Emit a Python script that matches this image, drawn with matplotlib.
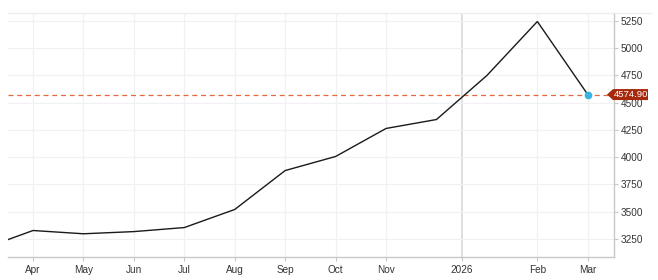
import matplotlib
matplotlib.use("Agg")
import matplotlib.pyplot as plt
from matplotlib.patches import Polygon
from matplotlib.lines import Line2D

plt.rcParams['font.family'] = ['Liberation Sans', 'DejaVu Sans']

# Data (monthly, Mar 2025 .. Mar 2026)
months = ["Mar", "Apr", "May", "Jun", "Jul", "Aug", "Sep", "Oct", "Nov", "Dec", "Jan", "Feb", "Mar"]
values = [3160, 3328, 3298, 3318, 3355, 3521, 3878, 4007, 4264, 4346, 4750, 5245, 4574.90]
last_value = 4574.90

xtick_pos = [1, 2, 3, 4, 5, 6, 7, 8, 9.5, 11, 12]
xtick_labels = ["Apr", "May", "Jun", "Jul", "Aug", "Sep", "Oct", "Nov", "2026", "Feb", "Mar"]
ytick_vals = [3250, 3500, 3750, 4000, 4250, 4500, 4750, 5000, 5250]

W, H = 658, 280
fig = plt.figure(figsize=(W / 100, H / 100), dpi=100)
left, right, top, bottom = 8, 614, 13, 257
ax = fig.add_axes([left / W, (H - bottom) / H, (right - left) / W, (bottom - top) / H])

x = list(range(len(values)))
ax.set_xlim(0.504, 12.52)
ax.set_ylim(3085, 5323)

# grid
for xp, lab in zip(xtick_pos, xtick_labels):
    if lab == "2026":
        ax.axvline(xp, color="#dcdcdc", lw=1.3, zorder=1)
    else:
        ax.axvline(xp, color="#f1f1f1", lw=0.9, zorder=1)
for yv in ytick_vals:
    ax.axhline(yv, color="#f1f1f1", lw=0.9, zorder=1)

ax.plot(x, values, color="#1a1a1a", lw=1.0, zorder=3, solid_joinstyle="miter")

# last value dashed line
ax.axhline(last_value, color="#e2683f", lw=0.9, ls=(0, (4, 3)), zorder=2)
ax.plot([x[-1]], [values[-1]], marker="o", ms=4.5, color="#37b4e2", mec="#37b4e2", zorder=4)

# spines
ax.spines["left"].set_visible(False)
ax.spines["top"].set_visible(False)
ax.spines["right"].set_color("#c8c8c8")
ax.spines["bottom"].set_color("#c8c8c8")
ax.spines["right"].set_linewidth(1.0)
ax.spines["bottom"].set_linewidth(1.0)

# light top border extending past the axis
fig.lines.append(Line2D([left / W, 651 / W], [(H - top) / H, (H - top) / H],
                        transform=fig.transFigure, color="#ececec", lw=0.9))

ax.yaxis.tick_right()
ax.set_yticks(ytick_vals)
ax.set_yticklabels([str(v) for v in ytick_vals])
ax.set_xticks(xtick_pos)
ax.set_xticklabels(xtick_labels)
ax.tick_params(axis="both", labelsize=7.2, colors="#c8c8c8", labelcolor="#333333",
               length=3, width=0.8, pad=2)
ax.tick_params(axis="x", pad=3)

# value label box (arrow shape) at right
fig.canvas.draw()
_, ypix = ax.transData.transform((0, last_value))
ytop_px = ypix + 5.5
ybot_px = ypix - 5.5
xl = 607
xa = 613
xr = 648
poly_px = [(xl, ypix), (xa, ytop_px), (xr, ytop_px), (xr, ybot_px), (xa, ybot_px)]
poly_fig = [(px / W, py / H) for px, py in poly_px]
fig.patches.append(Polygon(poly_fig, closed=True, transform=fig.transFigure,
                           facecolor="#a7290c", edgecolor="none", zorder=10))
fig.text((xa + xr) / 2 / W + 0.5 / W, ypix / H, "4574.90", color="white", fontsize=6.8,
         ha="center", va="center", zorder=11)

fig.savefig("out.png", dpi=100)
